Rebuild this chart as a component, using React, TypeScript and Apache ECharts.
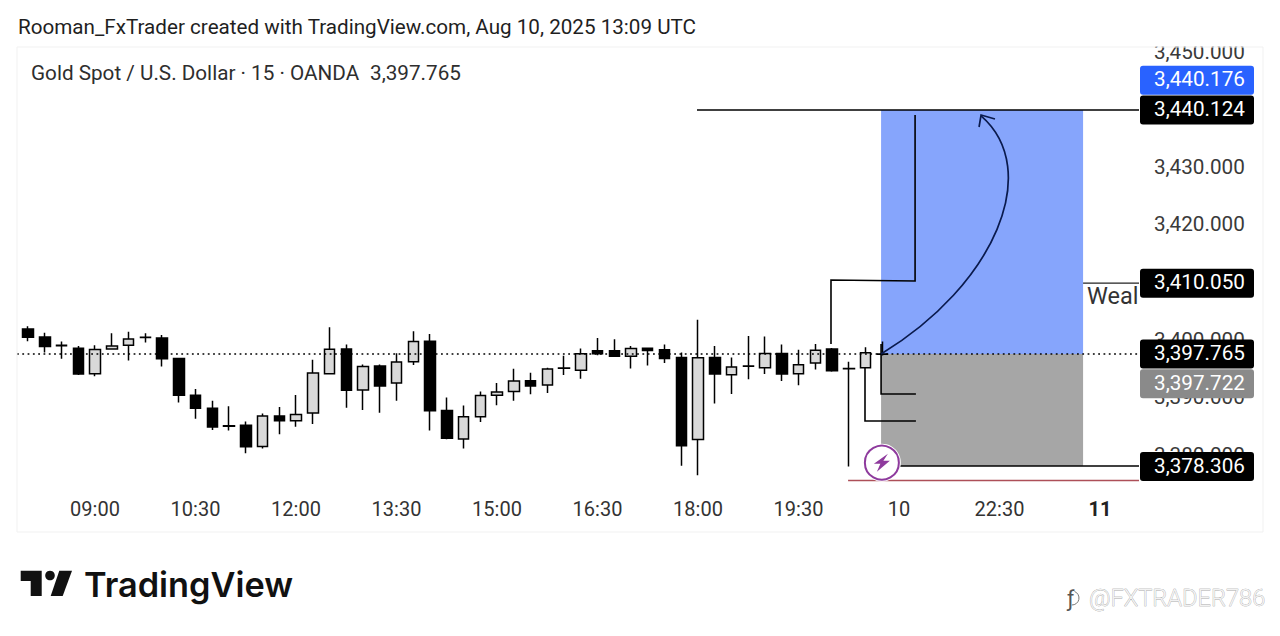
import React, { useEffect, useRef } from "react";
import * as echarts from "echarts";

const categories = [
  "08:00","08:15","08:30","08:45","09:00","09:15","09:30","09:45","10:00","10:15","10:30","10:45",
  "11:00","11:15","11:30","11:45","12:00","12:15","12:30","12:45","13:00","13:15","13:30","13:45",
  "14:00","14:15","14:30","14:45","15:00","15:15","15:30","15:45","16:00","16:15","16:30","16:45",
  "17:00","17:15","17:30","17:45","18:00","18:15","18:30","18:45","19:00","19:15","19:30","19:45",
  "20:00","20:15","20:30","20:45","10","21:15","21:30","21:45","22:00","22:15","22:30","22:45",
  "23:00","23:15","23:30","23:45","11","00:15","00:30",
];

// open, close, low, high
const candles = [
  [3402.10,3400.66,3399.97,3402.56],[3400.72,3399.05,3398.02,3401.47],[3399.26,3399.20,3396.93,3399.92],
  [3398.77,3394.28,3394.11,3399.17],[3394.34,3398.54,3393.88,3399.28],[3398.65,3399.17,3398.48,3401.35],
  [3399.28,3400.37,3396.64,3401.64],[3400.68,3400.64,3399.74,3401.35],[3400.55,3396.93,3395.60,3401.06],
  [3396.98,3390.60,3389.34,3397.10],[3390.60,3388.36,3386.52,3391.70],[3388.36,3385.09,3384.57,3389.63],
  [3385.29,3385.23,3384.46,3388.71],[3385.37,3381.64,3380.55,3386.06],[3381.70,3386.98,3381.35,3387.44],
  [3386.98,3386.18,3383.82,3388.54],[3386.18,3387.27,3385.15,3390.66],[3387.50,3394.46,3385.60,3396.75],
  [3394.34,3398.59,3394.34,3402.39],[3398.65,3391.47,3388.42,3399.40],[3391.52,3395.60,3388.02,3395.95],
  [3395.66,3392.21,3387.56,3395.95],[3392.73,3396.35,3389.63,3397.90],[3396.41,3399.92,3395.83,3401.70],
  [3399.97,3387.90,3384.46,3401.24],[3387.96,3383.13,3382.96,3390.20],[3383.02,3386.87,3381.35,3388.82],
  [3386.87,3390.55,3385.95,3391.24],[3390.60,3391.18,3388.88,3392.73],[3391.24,3393.08,3389.63,3395.20],
  [3393.13,3392.21,3390.78,3394.51],[3392.39,3395.15,3391.01,3395.37],[3395.35,3395.29,3394.11,3397.44],
  [3394.92,3397.79,3393.48,3398.71],[3398.31,3397.79,3397.56,3400.55],[3398.31,3397.39,3397.33,3400.32],
  [3397.39,3398.71,3395.26,3399.17],[3398.77,3398.36,3395.78,3398.82],[3398.48,3396.98,3396.18,3399.40],
  [3397.16,3381.81,3378.36,3398.02],[3382.90,3397.10,3376.70,3403.71],[3397.16,3394.28,3389.17,3399.17],
  [3394.17,3395.49,3390.83,3397.16],[3395.69,3395.63,3393.36,3400.89],[3395.37,3397.85,3394.28,3400.78],
  [3397.85,3394.28,3393.08,3399.40],[3394.34,3395.89,3392.33,3398.48],[3396.18,3398.42,3395.09,3399.51],
  [3398.65,3394.86,3394.69,3398.82],[3395.24,3395.18,3378.24,3396.41],[3395.38,3397.97,3395.38,3398.93],
  [3397.722,3397.765,3397.50,3399.91],
];

const yMin = 3370;
const yMax = 3450;
const lastPrice = 3397.765;
const targetPrice = 3440.124;
const stopPrice = 3378.306;
const boxStart = 50.93;
const boxEnd = 62.99;
const axisEnd = 66.33;

const topLine = [[39.94, targetPrice], [axisEnd, targetPrice]];
const stopLine = [[52.06, stopPrice], [axisEnd, stopPrice]];
const wealLine = [[62.99, 3410.05], [axisEnd, 3410.05]];
const redLine = [[48.96, 3375.79], [axisEnd, 3375.79]];
const upperHook = [[47.94, 3399.5], [47.94, 3410.61], [52.96, 3410.44], [52.96, 3439.26]];
const midHook = [[49.97, 3395.51], [49.97, 3386.13], [53.01, 3386.13]];
const lowHook = [[50.93, 3399.5], [50.93, 3390.82], [53.01, 3390.82]];
// start, control, control, end of the hand-drawn arrow
const arrowCurve = [[50.93, 3397.765], [57.73, 3409.74], [60.6, 3429.71], [56.9, 3439.09]];
const arrowHead = [[56.78, 3437.17], [56.9, 3439.26], [57.73, 3438.56]];

const tagPrices = [3440.176, 3440.124, 3410.05, 3397.765, 3397.722, 3378.306];
const tagNames = ["3,440.176", "3,440.124", "3,410.050", "3,397.765", "3,397.722", "3,378.306"];

const tagColors = ["#2962ff", "#000000", "#000000", "#000000", "#8a8a8a", "#000000"];
const tagShifts = [-29.5, 0, 0, 0, 29.5, 0.5];
const FONT = "Roboto";

const fmt = (v: number) =>
  v.toLocaleString("en-US", { minimumFractionDigits: 3, maximumFractionDigits: 3 });

function App() {
  const ref = useRef<HTMLDivElement>(null);
  useEffect(() => {
    const chart = echarts.init(ref.current!, undefined, { renderer: "svg" });

    const lineEl = (api: any, pts: number[][], color = "#000", width = 1.6, z2 = 0) => ({
      type: "polyline",
      shape: { points: pts.map((p) => api.coord(p)) },
      style: { stroke: color, lineWidth: width, fill: "none" },
      z2,
    });

    chart.setOption({
      animation: false,
      backgroundColor: "#ffffff",
      grid: { left: 19.625, top: 53.1, width: 1122.25, height: 460.8, containLabel: false },
      xAxis: [
        {
          type: "category",
          data: categories,
          offset: -23,
          axisLine: { show: false },
          axisTick: { show: false },
          splitLine: { show: false },
          axisLabel: {
            interval: (i: number) => i % 6 === 4,
            fontFamily: FONT,
            fontSize: 20,
            color: "#333333",
            formatter: (v: string) => (v === "11" ? `{b|${v}}` : v),
            rich: { b: { fontFamily: FONT, fontSize: 20, fontWeight: "bold", color: "#222222" } },
          },
        },
        { type: "value", min: -0.5, max: 66.5, show: false },
      ],
      yAxis: {
        type: "value",
        position: "right",
        min: yMin,
        max: yMax,
        interval: 10,
        axisLine: { show: false },
        axisTick: { show: false },
        splitLine: { show: false },
        axisLabel: {
          margin: 12,
          fontFamily: FONT,
          fontSize: 20.7,
          color: "#3a3a3a",
          verticalAlign: "bottom",
          lineHeight: 3,
          formatter: (v: number) => (v === yMin ? "" : fmt(v)),
        },
      },
      series: [
        {
          type: "custom",
          name: "position",
          xAxisIndex: 1,
          z: 1,
          silent: true,
          data: [[boxStart, lastPrice]],
          renderItem: (_p: any, api: any) => {
            const a = api.coord([boxStart, targetPrice]);
            const b = api.coord([boxEnd, lastPrice]);
            const c = api.coord([boxEnd, stopPrice]);
            return {
              type: "group",
              children: [
                { type: "rect", shape: { x: a[0], y: a[1], width: b[0] - a[0], height: b[1] - a[1] }, style: { fill: "#86a5fc" } },
                { type: "rect", shape: { x: a[0], y: b[1], width: b[0] - a[0], height: c[1] - b[1] }, style: { fill: "#a6a6a6" } },
              ],
            };
          },
        },
        {
          type: "candlestick",
          name: "XAUUSD",
          xAxisIndex: 0,
          z: 3,
          barWidth: 11,
          data: candles,
          itemStyle: {
            color: "#d9d9d9",
            color0: "#000000",
            borderColor: "#000000",
            borderColor0: "#000000",
            borderWidth: 1.5,
          },
        },
        {
          type: "custom",
          name: "drawings",
          xAxisIndex: 1,
          z: 4,
          silent: true,
          data: [[boxStart, lastPrice]],
          renderItem: (_p: any, api: any) => {
            const dl = api.coord([boxEnd, lastPrice])[1];
            const ic = api.coord([boxStart, 3378.9]);
            const cx = ic[0] + 0.8;
            const cy = ic[1];
            const [p0, p1, p2, p3] = arrowCurve.map((p) => api.coord(p));
            return {
              type: "group",
              children: [
                {
                  type: "line",
                  shape: { x1: 17, y1: dl, x2: 1139, y2: dl },
                  style: { stroke: "#000", lineWidth: 1.5, lineDash: [1.8, 3.5] },
                },
                lineEl(api, topLine),
                lineEl(api, stopLine),
                lineEl(api, wealLine, "#222", 1.3),
                lineEl(api, redLine, "#ad4f58", 1.5),
                lineEl(api, upperHook),
                lineEl(api, midHook),
                lineEl(api, lowHook),
                {
                  type: "bezierCurve",
                  shape: {
                    x1: p0[0], y1: p0[1], cpx1: p1[0], cpy1: p1[1],
                    cpx2: p2[0], cpy2: p2[1], x2: p3[0], y2: p3[1],
                  },
                  style: { stroke: "#0a1a4d", lineWidth: 1.7, fill: "none" },
                },
                lineEl(api, arrowHead, "#0a1a4d", 1.7),
                { type: "circle", shape: { cx, cy, r: 19 }, style: { fill: "#ffffff" } },
                { type: "circle", shape: { cx, cy, r: 17 }, style: { fill: "#ffffff", stroke: "#8e3a9d", lineWidth: 2 } },
                {
                  type: "polygon",
                  shape: {
                    points: [
                      [cx + 6, cy - 9], [cx - 8, cy + 1], [cx - 1.5, cy + 1], [cx - 5, cy + 9],
                      [cx + 8, cy - 2], [cx + 1.5, cy - 2],
                    ],
                  },
                  style: { fill: "#8e3a9d" },
                },
                ...tagPrices.flatMap((p, i) => {
                  const y = api.coord([boxEnd, p])[1] + tagShifts[i];
                  return [
                    {
                      type: "rect",
                      shape: { x: 1140, y: y - 14.5, width: 114, height: 29, r: 3 },
                      style: { fill: tagColors[i] },
                      z2: 20 + i,
                    },
                    {
                      type: "text",
                      style: {
                        x: 1154, y: y - 1, text: tagNames[i], fill: "#ffffff",
                        font: `20.7px ${FONT}`, textVerticalAlign: "middle", textAlign: "left",
                      },
                      z2: 40 + i,
                    },
                  ];
                }),
              ],
            };
          },
        },
      ],
      graphic: [
        { type: "rect", z: 50, silent: true, shape: { x: 0, y: 0, width: 1280, height: 46.5 }, style: { fill: "#ffffff" } },
        { type: "rect", z: 51, silent: true, shape: { x: 17, y: 47, width: 1246, height: 485 }, style: { fill: "none", stroke: "#f1f1f1", lineWidth: 1 } },
        { type: "text", z: 52, x: 18, y: 27, style: { text: "Rooman_FxTrader created with TradingView.com, Aug 10, 2025 13:09 UTC", font: `20.65px ${FONT}`, fill: "#1f1f1f", textVerticalAlign: "middle" } },
        { type: "text", z: 52, x: 31, y: 73, style: { text: "Gold Spot / U.S. Dollar · 15 · OANDA", font: `20.7px ${FONT}`, fill: "#2e2e2e", textVerticalAlign: "middle" } },
        { type: "text", z: 52, x: 370, y: 73, style: { text: "3,397.765", font: `20.7px ${FONT}`, fill: "#2e2e2e", textVerticalAlign: "middle" } },
        { type: "text", z: 3, x: 1087, y: 296, style: { text: "Weal", font: `23.5px ${FONT}`, fill: "#333333", textVerticalAlign: "middle" } },
        { type: "polygon", z: 52, shape: { points: [[20.7, 570.7], [41.7, 570.7], [41.7, 596], [30.7, 596], [30.7, 581], [20.7, 581]] }, style: { fill: "#111111" } },
        { type: "circle", z: 52, shape: { cx: 50, cy: 575.5, r: 4.8 }, style: { fill: "#111111" } },
        { type: "polygon", z: 52, shape: { points: [[59.3, 570.7], [72, 570.7], [62.7, 596], [50.7, 596]] }, style: { fill: "#111111" } },
        { type: "text", z: 52, x: 84, y: 584, style: { text: "TradingView", font: `600 34.3px Inter`, fill: "#111111", textVerticalAlign: "middle" } },
        { type: "text", z: 52, x: 1067, y: 598, style: { text: "ƒ", font: `22px ${FONT}`, fill: "#555555", textVerticalAlign: "middle" } },
        { type: "arc", z: 52, shape: { cx: 1072, cy: 598, r: 7, startAngle: -1.2, endAngle: 1.6 }, style: { stroke: "#777777", fill: "none", lineWidth: 1 } },
        { type: "text", z: 52, x: 1089, y: 598, style: { text: "@FXTRADER786", font: `300 23.6px ${FONT}`, fill: "#f2f2f2", stroke: "#8a8a8a", lineWidth: 0.5, textVerticalAlign: "middle" } },
      ],
    });
    return () => chart.dispose();
  }, []);
  return (
    <div
      ref={ref}
      style={{ position: "fixed", left: 0, top: 0, width: 1280, height: 636, background: "#fff" }}
    />
  );
}

export default App;
